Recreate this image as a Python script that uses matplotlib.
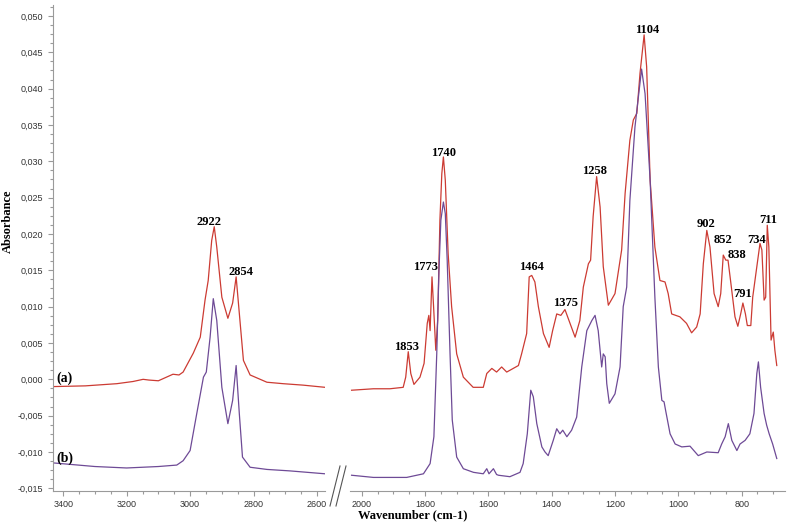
import matplotlib
matplotlib.use('Agg')
import matplotlib.pyplot as plt
from matplotlib.lines import Line2D
from matplotlib.ticker import MultipleLocator, FuncFormatter

# spectrum (a), high wavenumber part
RED_LEFT_WN = [3432, 3330, 3231, 3180, 3148, 3130, 3100, 3054, 3035, 3022, 2990, 2968, 2953,
               2943, 2932, 2924, 2916, 2900, 2881, 2866, 2855, 2845, 2832, 2811, 2758, 2707,
               2644, 2575]
RED_LEFT_ABS = [-0.0010, -0.0009, -0.0006, -0.0003, 0.0000, -0.0001, -0.0002, 0.0007, 0.0006,
                0.0010, 0.0036, 0.0058, 0.0109, 0.0136, 0.0191, 0.0210, 0.0182, 0.0113, 0.0084,
                0.0105, 0.0141, 0.0091, 0.0026, 0.0006, -0.0004, -0.0006, -0.0008, -0.0011]

# spectrum (b), high wavenumber part
BLUE_LEFT_WN = [3432, 3300, 3200, 3100, 3042, 3022, 3000, 2979, 2958, 2949, 2937, 2927, 2916,
                2900, 2881, 2866, 2855, 2845, 2835, 2811, 2758, 2686, 2575]
BLUE_LEFT_ABS = [-0.0115, -0.0120, -0.0122, -0.0120, -0.0118, -0.0112, -0.0098, -0.0047, 0.0003,
                 0.0010, 0.0058, 0.0111, 0.0081, -0.0011, -0.0061, -0.0029, 0.0019, -0.0047,
                 -0.0107, -0.0121, -0.0124, -0.0126, -0.0130]

# spectrum (a), fingerprint part
RED_RIGHT_WN = [2032, 1963, 1911, 1869, 1861, 1853, 1845, 1835, 1816, 1803, 1793, 1788, 1784,
                1778, 1773, 1766, 1760, 1753, 1747, 1742, 1736, 1727, 1716, 1700, 1679, 1648,
                1616, 1605, 1589, 1574, 1558, 1542, 1505, 1495, 1479, 1471, 1463, 1453, 1442,
                1426, 1408, 1397, 1384, 1371, 1358, 1342, 1326, 1311, 1300, 1284, 1277, 1269,
                1258, 1247, 1237, 1221, 1200, 1179, 1168, 1153, 1142, 1131, 1121, 1108, 1100,
                1089, 1074, 1058, 1042, 1032, 1021, 995, 974, 958, 942, 931, 921, 910, 900, 887,
                874, 866, 858, 850, 843, 835, 821, 812, 803, 796, 788, 782, 771, 765, 752, 742,
                736, 729, 724, 719, 714, 707, 700, 695, 689]
RED_RIGHT_ABS = [-0.0015, -0.0013, -0.0013, -0.0011, 0.0003, 0.0038, 0.0008, -0.0007, 0.0003,
                 0.0022, 0.0077, 0.0088, 0.0067, 0.0141, 0.0100, 0.0040, 0.0081, 0.0219, 0.0283,
                 0.0306, 0.0274, 0.0173, 0.0100, 0.0035, 0.0003, -0.0011, -0.0011, 0.0008,
                 0.0015, 0.0010, 0.0017, 0.0010, 0.0019, 0.0035, 0.0063, 0.0141, 0.0143, 0.0134,
                 0.0100, 0.0063, 0.0044, 0.0067, 0.0090, 0.0088, 0.0096, 0.0077, 0.0058, 0.0081,
                 0.0127, 0.0159, 0.0164, 0.0224, 0.0279, 0.0237, 0.0155, 0.0102, 0.0118, 0.0178,
                 0.0256, 0.0329, 0.0357, 0.0366, 0.0421, 0.0474, 0.0430, 0.0274, 0.0182, 0.0136,
                 0.0134, 0.0118, 0.0090, 0.0086, 0.0077, 0.0064, 0.0072, 0.0090, 0.0159, 0.0205,
                 0.0182, 0.0118, 0.0100, 0.0118, 0.0171, 0.0164, 0.0164, 0.0136, 0.0086, 0.0073,
                 0.0090, 0.0105, 0.0090, 0.0074, 0.0074, 0.0113, 0.0155, 0.0187, 0.0178, 0.0109,
                 0.0113, 0.0212, 0.0182, 0.0054, 0.0065, 0.0040, 0.0019]

# spectrum (b), fingerprint part
BLUE_RIGHT_WN = [2032, 1963, 1858, 1805, 1784, 1772, 1763, 1756, 1750, 1742, 1736, 1730, 1721,
                 1714, 1700, 1679, 1647, 1616, 1605, 1598, 1584, 1574, 1568, 1532, 1500, 1490,
                 1477, 1466, 1458, 1447, 1431, 1421, 1411, 1395, 1384, 1374, 1365, 1352, 1337,
                 1321, 1305, 1289, 1273, 1263, 1253, 1242, 1237, 1231, 1226, 1218, 1200, 1184,
                 1174, 1163, 1153, 1137, 1126, 1116, 1105, 1089, 1074, 1063, 1052, 1045, 1040,
                 1026, 1010, 989, 963, 937, 910, 874, 863, 852, 842, 831, 815, 805, 789, 774,
                 761, 752, 747, 740, 729, 721, 713, 702, 689]
BLUE_RIGHT_ABS = [-0.0132, -0.0135, -0.0135, -0.0130, -0.0116, -0.0079, 0.0035, 0.0150, 0.0219,
                  0.0244, 0.0228, 0.0164, 0.0035, -0.0056, -0.0107, -0.0123, -0.0128, -0.0130,
                  -0.0123, -0.0130, -0.0123, -0.0131, -0.0132, -0.0134, -0.0128, -0.0116,
                  -0.0075, -0.0015, -0.0024, -0.0061, -0.0093, -0.0100, -0.0105, -0.0084,
                  -0.0068, -0.0075, -0.0070, -0.0079, -0.0070, -0.0052, 0.0017, 0.0067, 0.0081,
                  0.0088, 0.0067, 0.0017, 0.0035, 0.0031, -0.0006, -0.0033, -0.0020, 0.0017,
                  0.0100, 0.0127, 0.0246, 0.0347, 0.0389, 0.0427, 0.0393, 0.0274, 0.0113, 0.0017,
                  -0.0029, -0.0031, -0.0043, -0.0075, -0.0089, -0.0093, -0.0092, -0.0105,
                  -0.0100, -0.0101, -0.0089, -0.0079, -0.0061, -0.0084, -0.0098, -0.0089,
                  -0.0084, -0.0075, -0.0047, 0.0008, 0.0024, -0.0011, -0.0047, -0.0063, -0.0075,
                  -0.0089, -0.0109]

# peak labels: text, x, y (baseline)
LEFT_PEAKS = [('2922', 2940, 0.0213), ('2854', 2840, 0.0143)]
RIGHT_PEAKS = [('1853', 1857, 0.0041), ('1773', 1798, 0.0150), ('1740', 1740, 0.0308),
               ('1464', 1465, 0.0150), ('1375', 1355, 0.0101), ('1258', 1264, 0.0282),
               ('1104', 1097, 0.0476), ('902', 912, 0.0209), ('852', 860, 0.0187),
               ('838', 814, 0.0167), ('791', 796, 0.0113), ('734', 754, 0.0187),
               ('711', 717, 0.0215)]

RED = '#cc3b33'
PURPLE = '#6e4a96'
AXIS_GREY = '#9a9a9a'
W, H = 788, 526

fig = plt.figure(figsize=(W / 100, H / 100), dpi=100)
bottom = 1 - 490.5 / H
height = 485.4 / H
ax1 = fig.add_axes([53 / W, bottom, 272 / W, height])
ax2 = fig.add_axes([350 / W, bottom, 435 / W, height])

def comma_fmt(v, pos):
    return ('%.3f' % v).replace('.', ',')

for ax in (ax1, ax2):
    ax.set_ylim(-0.0153, 0.0515)
    for s in ('top', 'right'):
        ax.spines[s].set_visible(False)
    ax.spines['bottom'].set_color(AXIS_GREY)
    ax.spines['left'].set_color(AXIS_GREY)
    ax.xaxis.set_major_locator(MultipleLocator(200))
    ax.xaxis.set_minor_locator(MultipleLocator(50))
    ax.tick_params(which='both', color=AXIS_GREY, labelsize=6.5, labelcolor='#333333', width=0.8)
    ax.tick_params(which='major', length=3.5)
    ax.tick_params(which='minor', length=2)
    for lab in ax.get_xticklabels() + ax.get_yticklabels():
        lab.set_family('Liberation Sans')

ax1.set_xlim(3432, 2575)
ax2.set_xlim(2037, 663)
ax1.yaxis.set_major_locator(MultipleLocator(0.005))
ax1.yaxis.set_minor_locator(MultipleLocator(0.00125))
ax1.yaxis.set_major_formatter(FuncFormatter(comma_fmt))
ax2.spines['left'].set_visible(False)
ax2.tick_params(axis='y', which='both', left=False, labelleft=False)

ax1.plot(RED_LEFT_WN, RED_LEFT_ABS, color=RED, lw=0.9)
ax1.plot(BLUE_LEFT_WN, BLUE_LEFT_ABS, color=PURPLE, lw=0.9)
ax2.plot(RED_RIGHT_WN, RED_RIGHT_ABS, color=RED, lw=0.9)
ax2.plot(BLUE_RIGHT_WN, BLUE_RIGHT_ABS, color=PURPLE, lw=0.9)

lab_font = dict(family='Liberation Serif', weight='bold', fontsize=9)
for txt, x, y in LEFT_PEAKS:
    ax1.text(x, y, txt, ha='center', va='baseline', **lab_font)
for txt, x, y in RIGHT_PEAKS:
    ax2.text(x, y, txt, ha='center', va='baseline', **lab_font)

ax1.text(3420, 0.0001, '(a)', ha='left', va='center', family='Liberation Serif',
         weight='bold', fontsize=10)
ax1.text(3422, -0.0108, '(b)', ha='left', va='center', family='Liberation Serif',
         weight='bold', fontsize=10)

fig.text(8 / W, 1 - 221 / H, 'Absorbance', rotation=90, ha='center', va='center', **lab_font)
fig.text(413 / W, 1 - 515 / H, 'Wavenumber (cm-1)', ha='center', va='center', **lab_font)

# axis break marks
for x0 in (330, 336):
    fig.add_artist(Line2D([x0 / W, (x0 + 10) / W], [1 - 506 / H, 1 - 466 / H],
                          color='#555555', lw=0.8))

fig.savefig('out.png', dpi=100)
